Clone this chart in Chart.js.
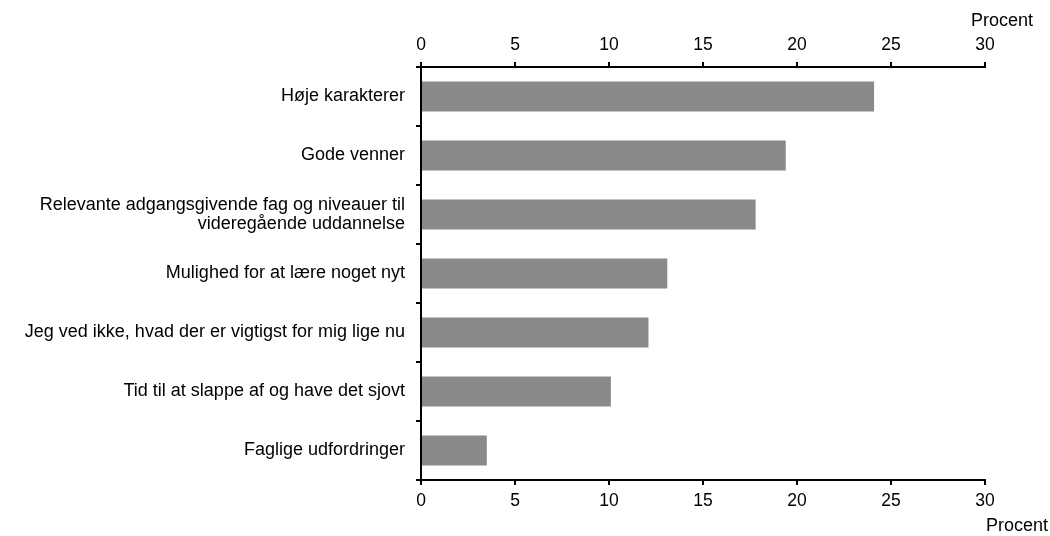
<!DOCTYPE html>
<html lang="da">
<head>
<meta charset="UTF-8">
<title>Procent</title>
<script src="https://cdn.jsdelivr.net/npm/chart.js"></script>
<style>
  html, body { margin: 0; padding: 0; background: #fff; }
  #wrap { width: 1050px; height: 536px; }
</style>
</head>
<body>
<div id="wrap"><canvas id="chart" width="1050" height="536"></canvas></div>
<script>
  // data
  const categories = [
    'Høje karakterer',
    'Gode venner',
    ['Relevante adgangsgivende fag og niveauer til', 'videregående uddannelse'],
    'Mulighed for at lære noget nyt',
    'Jeg ved ikke, hvad der er vigtigst for mig lige nu',
    'Tid til at slappe af og have det sjovt',
    'Faglige udfordringer'
  ];
  const values = [24.1, 19.4, 17.8, 13.1, 12.1, 10.1, 3.5];
  const axisMin = 0, axisMax = 30, axisStep = 5;
  const unitLabel = 'Procent';

  const FONT = 'Liberation Sans, Arial, sans-serif';
  Chart.defaults.font.family = FONT;
  Chart.defaults.font.size = 18;
  Chart.defaults.color = '#000';

  // "Procent" over top axis and under bottom axis
  const unitText = {
    id: 'unitText',
    afterDraw(chart) {
      const ctx = chart.ctx, a = chart.chartArea;
      ctx.save();
      ctx.font = '18px ' + FONT;
      ctx.fillStyle = '#000';
      ctx.textAlign = 'right';
      ctx.textBaseline = 'middle';
      ctx.fillText(unitLabel, a.right + 48, 21);
      ctx.fillText(unitLabel, a.right + 63, 526);
      ctx.restore();
    }
  };

  const xAxis = (pos, h, pad) => ({
    type: 'linear',
    position: pos,
    min: axisMin, max: axisMax,
    ticks: { stepSize: axisStep, padding: pad, maxRotation: 0, font: { size: 17.5 } },
    grid: { drawOnChartArea: false, tickLength: 5, color: '#000', lineWidth: 2 },
    border: { color: '#000', width: 2 },
    afterFit: s => { s.height = h; }
  });

  new Chart(document.getElementById('chart'), {
    type: 'bar',
    data: {
      labels: categories,
      datasets: [{
        data: values,
        backgroundColor: '#898989',
        categoryPercentage: 1,
        barPercentage: 0.51,
        xAxisID: 'x'
      }]
    },
    options: {
      indexAxis: 'y',
      responsive: false,
      animation: false,
      layout: { padding: { left: 0, right: 65, top: 0, bottom: 0 } },
      plugins: { legend: { display: false }, tooltip: { enabled: false } },
      scales: {
        x: xAxis('bottom', 56, 6),
        x2: xAxis('top', 67, 6),
        y: {
          ticks: { padding: 11, font: { size: 18, lineHeight: 1.1 } },
          grid: { drawOnChartArea: false, tickLength: 5, color: '#000', lineWidth: 2 },
          border: { color: '#000', width: 2 },
          afterFit: s => { s.width = 421; }
        }
      }
    },
    plugins: [unitText]
  });
</script>
</body>
</html>
